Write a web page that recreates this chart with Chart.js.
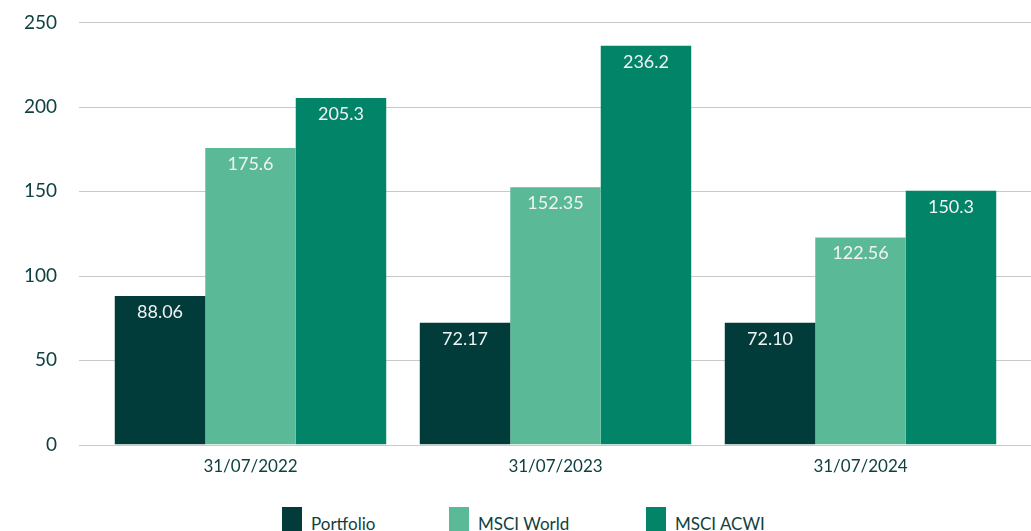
<!DOCTYPE html>
<html>
<head>
<meta charset="utf-8">
<script src="https://cdn.jsdelivr.net/npm/chart.js@4.4.1/dist/chart.umd.min.js"></script>
<style>
  html, body { margin: 0; padding: 0; background: #fff; overflow: hidden; }
  #wrap { position: relative; width: 1031px; height: 531px; overflow: hidden; }
  #graf { position: absolute; left: 0; top: -30px; width: 1031px; height: 527px; }
  #leyenda { position: absolute; left: 0; top: 507px; width: 1031px; height: 40px; }
  .item { position: absolute; top: 0; display: flex; align-items: flex-start;
          font: 17px Lato, "Open Sans", sans-serif; color: #0f4140; white-space: nowrap; }
  .item i { display: inline-block; width: 20px; height: 26px; margin-right: 9px; }
  .item span { margin-top: 6px; }
</style>
</head>
<body>
<div id="wrap">
  <div id="graf"><canvas id="perf"></canvas></div>
  <div id="leyenda"></div>
</div>
<script>
// fechas de corte y series
const periodos = ['31/07/2022', '31/07/2023', '31/07/2024'];
const series = ['Portfolio', 'MSCI World', 'MSCI ACWI'];
const portfolio = [88.06, 72.17, 72.10];
const msciWorld = [175.6, 152.35, 122.56];
const msciAcwi = [205.3, 236.2, 150.3];
const etiquetas = [
    ['88.06', '72.17', '72.10'],
    ['175.6', '152.35', '122.56'],
    ['205.3', '236.2', '150.3']
];
const yTicks = [0, 50, 100, 150, 200, 250];

const colores = ['#013c3b', '#5aba98', '#018468'];
const textoOscuro = '#0f4140';
const fuente = 'Lato, "Open Sans", sans-serif';

// líneas horizontales de la rejilla, más anchas que el área de barras
const rejilla = {
    id: 'rejilla',
    beforeDatasetsDraw(chart) {
        const { ctx, scales: { y } } = chart;
        ctx.save();
        ctx.strokeStyle = '#c9c9c9';
        ctx.lineWidth = 1;
        yTicks.forEach(v => {
            const py = Math.round(y.getPixelForValue(v)) + 0.5;
            ctx.beginPath();
            ctx.moveTo(79, py);
            ctx.lineTo(chart.width, py);
            ctx.stroke();
        });
        ctx.restore();
    }
};

// valor dentro de cada barra, arriba
const valores = {
    id: 'valores',
    afterDatasetsDraw(chart) {
        const { ctx } = chart;
        ctx.save();
        ctx.font = '18px ' + fuente;
        ctx.fillStyle = '#f2f2f2';
        ctx.textAlign = 'center';
        ctx.textBaseline = 'middle';
        chart.data.datasets.forEach((ds, i) => {
            chart.getDatasetMeta(i).data.forEach((bar, j) => {
                ctx.fillText(etiquetas[i][j], bar.x, bar.y + 16);
            });
        });
        ctx.restore();
    }
};

const chart = new Chart(document.getElementById('perf'), {
    type: 'bar',
    data: {
        labels: periodos,
        datasets: [
            { label: series[0], data: portfolio, backgroundColor: colores[0] },
            { label: series[1], data: msciWorld, backgroundColor: colores[1] },
            { label: series[2], data: msciAcwi, backgroundColor: colores[2] }
        ]
    },
    options: {
        responsive: true,
        maintainAspectRatio: false,
        animation: false,
        layout: { padding: { top: 14, right: 18, bottom: 0, left: 0 } },
        datasets: {
            bar: { barPercentage: 1, categoryPercentage: 0.89 }
        },
        plugins: {
            tooltip: { enabled: false },
            legend: { display: false }
        },
        scales: {
            x: {
                grid: { display: false },
                border: { display: false },
                ticks: {
                    color: textoOscuro,
                    font: { family: fuente, size: 17 },
                    padding: 4
                }
            },
            y: {
                min: 0,
                max: 250,
                afterFit(scale) { scale.width = 98; },
                afterBuildTicks(scale) { scale.ticks = yTicks.map(v => ({ value: v })); },
                grid: { display: false, drawTicks: false },
                border: { display: false },
                ticks: {
                    color: textoOscuro,
                    font: { family: fuente, size: 19 },
                    padding: 41
                }
            }
        }
    },
    plugins: [rejilla, valores]
});

// leyenda en HTML con los colores de cada serie
const posLeyenda = [282, 449, 646];
const leyenda = document.getElementById('leyenda');
chart.data.datasets.forEach((ds, i) => {
    const el = document.createElement('div');
    el.className = 'item';
    el.style.left = posLeyenda[i] + 'px';
    el.innerHTML = '<i style="background:' + ds.backgroundColor + '"></i><span>' + ds.label + '</span>';
    leyenda.appendChild(el);
});
</script>
</body>
</html>
